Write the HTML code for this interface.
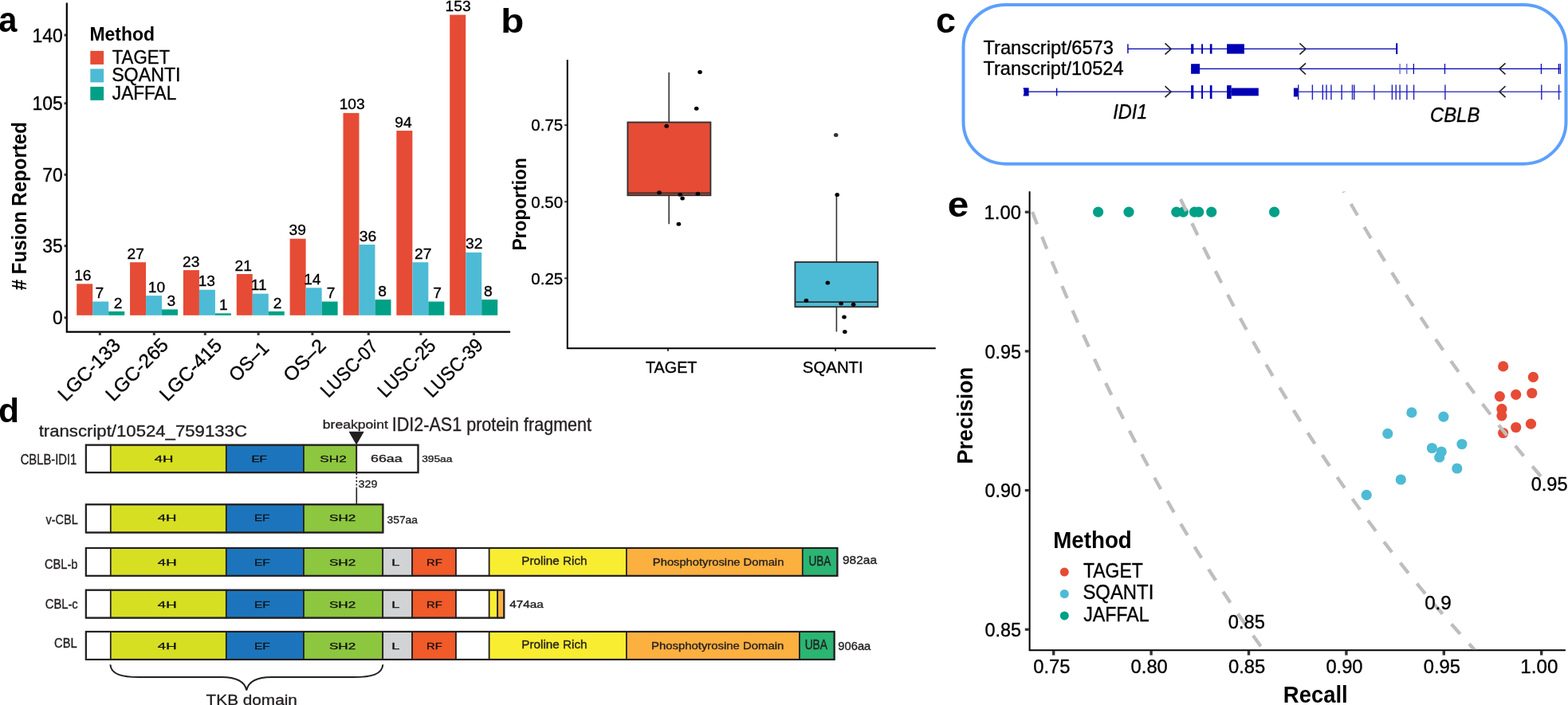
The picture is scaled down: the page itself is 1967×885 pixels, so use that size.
<!DOCTYPE html>
<html><head><meta charset="utf-8"><title>Figure</title>
<style>html,body{margin:0;padding:0;background:#fff;} svg{display:block;} text{font-family:'Liberation Sans', Arial, Helvetica, sans-serif;}</style>
</head><body>
<svg width="1967" height="885" viewBox="0 0 1967 885">
<rect width="1967" height="885" fill="#fff"/>
<text x="-1.72" y="40.30" font-size="45" font-weight="bold" fill="#000" textLength="23.16" lengthAdjust="spacingAndGlyphs">a</text>
<path d="M83.8 3.5 V416.7 H640.1" fill="none" stroke="#000" stroke-width="2.2"/>
<line x1="80.6" y1="398.8" x2="83" y2="398.8" stroke="#333333" stroke-width="3"/>
<text x="65.95" y="407.35" font-size="24.1" fill="#000" stroke="#000" stroke-width="0.35" textLength="12.75" lengthAdjust="spacingAndGlyphs">0</text>
<line x1="80.6" y1="308.7" x2="83" y2="308.7" stroke="#333333" stroke-width="3"/>
<text x="53.27" y="317.25" font-size="24.1" fill="#000" stroke="#000" stroke-width="0.35" textLength="25.49" lengthAdjust="spacingAndGlyphs">35</text>
<line x1="80.6" y1="219.3" x2="83" y2="219.3" stroke="#333333" stroke-width="3"/>
<text x="53.20" y="227.85" font-size="24.1" fill="#000" stroke="#000" stroke-width="0.35" textLength="25.49" lengthAdjust="spacingAndGlyphs">70</text>
<line x1="80.6" y1="129.7" x2="83" y2="129.7" stroke="#333333" stroke-width="3"/>
<text x="40.52" y="138.25" font-size="24.1" fill="#000" stroke="#000" stroke-width="0.35" textLength="38.24" lengthAdjust="spacingAndGlyphs">105</text>
<line x1="80.6" y1="44.1" x2="83" y2="44.1" stroke="#333333" stroke-width="3"/>
<text x="40.46" y="52.65" font-size="24.1" fill="#000" stroke="#000" stroke-width="0.35" textLength="38.24" lengthAdjust="spacingAndGlyphs">140</text>
<rect x="96.20" y="356.35" width="20.00" height="39.45" fill="#E64B35"/>
<text x="93.21" y="351.87" font-size="19.2" fill="#000" stroke="#000" stroke-width="0.35">16</text>
<rect x="116.20" y="378.54" width="20.00" height="17.26" fill="#4DBBD5"/>
<text x="119.45" y="374.24" font-size="19.2" fill="#000" stroke="#000" stroke-width="0.35">7</text>
<rect x="136.20" y="390.87" width="20.00" height="4.93" fill="#00A087"/>
<text x="142.86" y="386.57" font-size="19.2" fill="#000" stroke="#000" stroke-width="0.35">2</text>
<line x1="125.30" y1="417.5" x2="125.30" y2="420.8" stroke="#333333" stroke-width="3"/>
<text x="82.51" y="504.99" font-size="24.2" textLength="99.32" lengthAdjust="spacingAndGlyphs" stroke="#000" stroke-width="0.35" transform="rotate(-45 82.51 504.99)">LGC-133</text>
<rect x="163.06" y="329.23" width="20.00" height="66.57" fill="#E64B35"/>
<text x="159.62" y="324.93" font-size="19.2" fill="#000" stroke="#000" stroke-width="0.35">27</text>
<rect x="183.06" y="371.15" width="20.00" height="24.65" fill="#4DBBD5"/>
<text x="185.87" y="366.66" font-size="19.2" fill="#000" stroke="#000" stroke-width="0.35">10</text>
<rect x="203.06" y="388.40" width="20.00" height="7.40" fill="#00A087"/>
<text x="209.52" y="383.92" font-size="19.2" fill="#000" stroke="#000" stroke-width="0.35">3</text>
<line x1="193.30" y1="417.5" x2="193.30" y2="420.8" stroke="#333333" stroke-width="3"/>
<text x="142.26" y="505.00" font-size="24.2" textLength="99.69" lengthAdjust="spacingAndGlyphs" stroke="#000" stroke-width="0.35" transform="rotate(-45 142.26 505.00)">LGC-265</text>
<rect x="229.92" y="339.10" width="20.00" height="56.70" fill="#E64B35"/>
<text x="229.06" y="334.61" font-size="19.2" fill="#000" stroke="#000" stroke-width="0.35">23</text>
<rect x="249.92" y="363.75" width="20.00" height="32.05" fill="#4DBBD5"/>
<text x="248.71" y="359.26" font-size="19.2" fill="#000" stroke="#000" stroke-width="0.35">13</text>
<rect x="269.92" y="393.33" width="20.00" height="2.47" fill="#00A087"/>
<text x="275.10" y="389.03" font-size="19.2" fill="#000" stroke="#000" stroke-width="0.35">1</text>
<line x1="257.30" y1="417.5" x2="257.30" y2="420.8" stroke="#333333" stroke-width="3"/>
<text x="209.94" y="504.98" font-size="24.2" textLength="98.86" lengthAdjust="spacingAndGlyphs" stroke="#000" stroke-width="0.35" transform="rotate(-45 209.94 504.98)">LGC-415</text>
<rect x="296.78" y="344.03" width="20.00" height="51.77" fill="#E64B35"/>
<text x="294.61" y="339.73" font-size="19.2" fill="#000" stroke="#000" stroke-width="0.35">21</text>
<rect x="316.78" y="368.68" width="20.00" height="27.12" fill="#4DBBD5"/>
<text x="314.66" y="364.38" font-size="19.2" fill="#000" stroke="#000" stroke-width="0.35">11</text>
<rect x="336.78" y="390.87" width="20.00" height="4.93" fill="#00A087"/>
<text x="342.66" y="386.57" font-size="19.2" fill="#000" stroke="#000" stroke-width="0.35">2</text>
<line x1="324.10" y1="417.5" x2="324.10" y2="420.8" stroke="#333333" stroke-width="3"/>
<text x="297.13" y="480.45" font-size="24.2" textLength="59.16" lengthAdjust="spacingAndGlyphs" stroke="#000" stroke-width="0.35" transform="rotate(-45 297.13 480.45)">OS–1</text>
<rect x="363.64" y="299.65" width="20.00" height="96.15" fill="#E64B35"/>
<text x="362.61" y="295.16" font-size="19.2" fill="#000" stroke="#000" stroke-width="0.35">39</text>
<rect x="383.64" y="361.28" width="20.00" height="34.52" fill="#4DBBD5"/>
<text x="381.17" y="356.98" font-size="19.2" fill="#000" stroke="#000" stroke-width="0.35">14</text>
<rect x="403.64" y="378.54" width="20.00" height="17.26" fill="#00A087"/>
<text x="409.75" y="374.24" font-size="19.2" fill="#000" stroke="#000" stroke-width="0.35">7</text>
<line x1="391.90" y1="417.5" x2="391.90" y2="420.8" stroke="#333333" stroke-width="3"/>
<text x="365.19" y="480.65" font-size="24.2" textLength="63.84" lengthAdjust="spacingAndGlyphs" stroke="#000" stroke-width="0.35" transform="rotate(-45 365.19 480.65)">OS–2</text>
<rect x="430.50" y="141.86" width="20.00" height="253.94" fill="#E64B35"/>
<text x="425.67" y="137.38" font-size="19.2" fill="#000" stroke="#000" stroke-width="0.35">103</text>
<rect x="450.50" y="307.05" width="20.00" height="88.75" fill="#4DBBD5"/>
<text x="450.78" y="302.56" font-size="19.2" fill="#000" stroke="#000" stroke-width="0.35">36</text>
<rect x="470.50" y="376.08" width="20.00" height="19.72" fill="#00A087"/>
<text x="474.36" y="371.59" font-size="19.2" fill="#000" stroke="#000" stroke-width="0.35">8</text>
<line x1="462.30" y1="417.5" x2="462.30" y2="420.8" stroke="#333333" stroke-width="3"/>
<text x="411.98" y="500.22" font-size="24.2" textLength="90.05" lengthAdjust="spacingAndGlyphs" stroke="#000" stroke-width="0.35" transform="rotate(-45 411.98 500.22)">LUSC-07</text>
<rect x="497.36" y="164.05" width="20.00" height="231.75" fill="#E64B35"/>
<text x="495.25" y="159.56" font-size="19.2" fill="#000" stroke="#000" stroke-width="0.35">94</text>
<rect x="517.36" y="329.23" width="20.00" height="66.57" fill="#4DBBD5"/>
<text x="520.02" y="324.93" font-size="19.2" fill="#000" stroke="#000" stroke-width="0.35">27</text>
<rect x="537.36" y="378.54" width="20.00" height="17.26" fill="#00A087"/>
<text x="543.35" y="374.24" font-size="19.2" fill="#000" stroke="#000" stroke-width="0.35">7</text>
<line x1="527.90" y1="417.5" x2="527.90" y2="420.8" stroke="#333333" stroke-width="3"/>
<text x="483.39" y="500.27" font-size="24.2" textLength="91.52" lengthAdjust="spacingAndGlyphs" stroke="#000" stroke-width="0.35" transform="rotate(-45 483.39 500.27)">LUSC-25</text>
<rect x="564.22" y="18.59" width="20.00" height="377.21" fill="#E64B35"/>
<text x="558.57" y="14.11" font-size="19.2" fill="#000" stroke="#000" stroke-width="0.35">153</text>
<rect x="584.22" y="316.91" width="20.00" height="78.89" fill="#4DBBD5"/>
<text x="584.04" y="312.42" font-size="19.2" fill="#000" stroke="#000" stroke-width="0.35">32</text>
<rect x="604.22" y="376.08" width="20.00" height="19.72" fill="#00A087"/>
<text x="607.06" y="371.59" font-size="19.2" fill="#000" stroke="#000" stroke-width="0.35">8</text>
<line x1="594.50" y1="417.5" x2="594.50" y2="420.8" stroke="#333333" stroke-width="3"/>
<text x="541.93" y="500.29" font-size="24.2" textLength="92.66" lengthAdjust="spacingAndGlyphs" stroke="#000" stroke-width="0.35" transform="rotate(-45 541.93 500.29)">LUSC-39</text>
<text x="0" y="0" font-size="25" font-weight="bold" text-anchor="middle" textLength="211.3" lengthAdjust="spacingAndGlyphs" transform="translate(32.8 258.7) rotate(-90)"># Fusion Reported</text>
<text x="112.46" y="50.90" font-size="23.4" font-weight="bold" fill="#000" textLength="81.65" lengthAdjust="spacingAndGlyphs">Method</text>
<rect x="113.3" y="63.90" width="16.8" height="17" fill="#E64B35"/>
<text x="140.71" y="79.70" font-size="23.4" fill="#000" stroke="#000" stroke-width="0.35" textLength="72.28" lengthAdjust="spacingAndGlyphs">TAGET</text>
<rect x="113.3" y="86.40" width="16.8" height="17" fill="#4DBBD5"/>
<text x="140.15" y="101.80" font-size="23.4" fill="#000" stroke="#000" stroke-width="0.35" textLength="86.40" lengthAdjust="spacingAndGlyphs">SQANTI</text>
<rect x="113.3" y="108.90" width="16.8" height="17" fill="#00A087"/>
<text x="140.85" y="124.90" font-size="23.4" fill="#000" stroke="#000" stroke-width="0.35" textLength="80.39" lengthAdjust="spacingAndGlyphs">JAFFAL</text>
<text x="628.16" y="40.60" font-size="43" font-weight="bold" fill="#000" textLength="29.09" lengthAdjust="spacingAndGlyphs">b</text>
<path d="M711.8 74.9 V437.2 H1173.8" fill="none" stroke="#000" stroke-width="2"/>
<line x1="708.2" y1="349.3" x2="711" y2="349.3" stroke="#333333" stroke-width="2"/>
<text x="666.30" y="356.65" font-size="20.7" fill="#000" stroke="#000" stroke-width="0.35" textLength="39.86" lengthAdjust="spacingAndGlyphs">0.25</text>
<line x1="708.2" y1="253.2" x2="711" y2="253.2" stroke="#333333" stroke-width="2"/>
<text x="666.30" y="260.55" font-size="20.7" fill="#000" stroke="#000" stroke-width="0.35" textLength="39.80" lengthAdjust="spacingAndGlyphs">0.50</text>
<line x1="708.2" y1="157.1" x2="711" y2="157.1" stroke="#333333" stroke-width="2"/>
<text x="666.30" y="164.45" font-size="20.7" fill="#000" stroke="#000" stroke-width="0.35" textLength="39.86" lengthAdjust="spacingAndGlyphs">0.75</text>
<line x1="838.0" y1="438" x2="838.0" y2="440.8" stroke="#333333" stroke-width="2"/>
<text x="809.97" y="468.10" font-size="20.6" fill="#000" stroke="#000" stroke-width="0.35" textLength="64.48" lengthAdjust="spacingAndGlyphs">TAGET</text>
<line x1="1048.0" y1="438" x2="1048.0" y2="440.8" stroke="#333333" stroke-width="2"/>
<text x="1006.77" y="468.10" font-size="20.6" fill="#000" stroke="#000" stroke-width="0.35" textLength="76.01" lengthAdjust="spacingAndGlyphs">SQANTI</text>
<text x="0" y="0" font-size="23.5" font-weight="bold" text-anchor="middle" textLength="116.5" lengthAdjust="spacingAndGlyphs" transform="translate(659.6 256.3) rotate(-90)">Proportion</text>
<line x1="839.2" y1="91" x2="839.2" y2="153.3" stroke="#333333" stroke-width="1.6"/>
<line x1="839.2" y1="245.4" x2="839.2" y2="281.2" stroke="#333333" stroke-width="1.6"/>
<rect x="787.4000000000001" y="153.5" width="104.00" height="91.70" fill="#E64B35" stroke="#333333" stroke-width="1.9"/>
<line x1="787.2" y1="242.3" x2="891.6" y2="242.3" stroke="#333333" stroke-width="1.8"/>
<line x1="1049.4" y1="244.4" x2="1049.4" y2="328.8" stroke="#333333" stroke-width="1.6"/>
<line x1="1049.4" y1="385.4" x2="1049.4" y2="416.4" stroke="#333333" stroke-width="1.6"/>
<rect x="997.4000000000001" y="329.0" width="103.80" height="56.20" fill="#4DBBD5" stroke="#333333" stroke-width="1.9"/>
<line x1="997.2" y1="379.2" x2="1101.4" y2="379.2" stroke="#333333" stroke-width="1.8"/>
<ellipse cx="878" cy="90.4" rx="2.8" ry="2.5" fill="#000"/>
<ellipse cx="873.7" cy="136.2" rx="2.8" ry="2.5" fill="#000"/>
<ellipse cx="836.2" cy="158.2" rx="2.8" ry="2.5" fill="#000"/>
<ellipse cx="827" cy="241.8" rx="2.8" ry="2.5" fill="#000"/>
<ellipse cx="853.2" cy="244.3" rx="2.8" ry="2.5" fill="#000"/>
<ellipse cx="856.1" cy="248.9" rx="2.8" ry="2.5" fill="#000"/>
<ellipse cx="875.4" cy="243.2" rx="2.8" ry="2.5" fill="#000"/>
<ellipse cx="851.4" cy="281.2" rx="2.8" ry="2.5" fill="#000"/>
<ellipse cx="1050.2" cy="244.4" rx="2.8" ry="2.5" fill="#000"/>
<ellipse cx="1038.3" cy="355" rx="2.8" ry="2.5" fill="#000"/>
<ellipse cx="1011.4" cy="377.2" rx="2.8" ry="2.5" fill="#000"/>
<ellipse cx="1055.2" cy="381.1" rx="2.8" ry="2.5" fill="#000"/>
<ellipse cx="1070.6" cy="382.2" rx="2.8" ry="2.5" fill="#000"/>
<ellipse cx="1059" cy="398" rx="2.8" ry="2.5" fill="#000"/>
<ellipse cx="1059.8" cy="416.4" rx="2.8" ry="2.5" fill="#000"/>
<ellipse cx="1048.7" cy="169.6" rx="2.8" ry="2.5" fill="#333"/>
<text x="1174.05" y="41.10" font-size="45" font-weight="bold" fill="#000" textLength="24.97" lengthAdjust="spacingAndGlyphs">c</text>
<rect x="1208.5" y="6" width="756" height="199.7" rx="53" ry="53" fill="none" stroke="#5DA0FC" stroke-width="4"/>
<text x="1233.47" y="67.50" font-size="23.6" fill="#000" stroke="#000" stroke-width="0.35" textLength="163.46" lengthAdjust="spacingAndGlyphs">Transcript/6573</text>
<text x="1233.47" y="94.40" font-size="23.6" fill="#000" stroke="#000" stroke-width="0.35" textLength="176.11" lengthAdjust="spacingAndGlyphs">Transcript/10524</text>
<text x="1396.27" y="148.50" font-size="25" font-style="italic" fill="#000" stroke="#000" stroke-width="0.35" textLength="43.12" lengthAdjust="spacingAndGlyphs">IDI1</text>
<text x="1793.98" y="153.10" font-size="25" font-style="italic" fill="#000" stroke="#000" stroke-width="0.35" textLength="62.33" lengthAdjust="spacingAndGlyphs">CBLB</text>
<line x1="1414.9" y1="61.35" x2="1752" y2="61.35" stroke="#0000B4" stroke-width="1.2"/>
<rect x="1414.2" y="55.3" width="1.4" height="11.7" fill="#0000B4"/>
<rect x="1751.2" y="54.2" width="2" height="13.7" fill="#0000B4"/>
<rect x="1494.1" y="55.3" width="3.20" height="12.2" fill="#0000B4"/>
<rect x="1507.1" y="55.3" width="1.90" height="12.2" fill="#0000B4"/>
<rect x="1517.8" y="55.3" width="2.70" height="12.2" fill="#0000B4"/>
<rect x="1539.1" y="55.3" width="21.80" height="12.2" fill="#0000B4"/>
<path d="M1461.5 54.4 L1469.1 61.4 L1461.5 68.3" fill="none" stroke="#222" stroke-width="1.6"/>
<path d="M1630.4 54.4 L1638.0 61.4 L1630.4 68.3" fill="none" stroke="#222" stroke-width="1.6"/>
<line x1="1494" y1="86.3" x2="1957.5" y2="86.3" stroke="#0000B4" stroke-width="1.2"/>
<rect x="1494.1" y="80.2" width="11" height="12.5" fill="#0000B4"/>
<rect x="1755.5" y="80" width="1.2" height="12.9" fill="#5050C8"/>
<rect x="1764.2" y="80" width="1.2" height="12.9" fill="#5050C8"/>
<rect x="1772.8" y="80" width="1.2" height="12.9" fill="#0000B4"/>
<rect x="1811.9" y="80" width="1.2" height="12.9" fill="#0000B4"/>
<rect x="1932.8" y="80" width="1.2" height="12.9" fill="#0000B4"/>
<rect x="1954.8" y="80" width="1.2" height="12.9" fill="#0000B4"/>
<rect x="1956.7" y="80" width="1.2" height="12.9" fill="#0000B4"/>
<path d="M1638.0 79.3 L1630.4 86.3 L1638.0 93.3" fill="none" stroke="#222" stroke-width="1.6"/>
<path d="M1888.5 79.3 L1880.9 86.3 L1888.5 93.3" fill="none" stroke="#222" stroke-width="1.6"/>
<line x1="1284" y1="115.2" x2="1545" y2="115.2" stroke="#0000B4" stroke-width="1.2"/>
<line x1="1628" y1="115.2" x2="1958.6" y2="115.2" stroke="#4646C8" stroke-width="1.6"/>
<path d="M1283.5 110.3 H1290.6 V120.6 H1283.5 L1284.9 115.4 Z" fill="#0000B4"/>
<rect x="1325" y="110.6" width="1.3" height="9.8" fill="#0000B4"/>
<rect x="1494.1" y="107.1" width="3.20" height="16.9" fill="#0000B4"/>
<rect x="1507.1" y="107.1" width="1.90" height="16.9" fill="#0000B4"/>
<rect x="1517.8" y="107.1" width="2.70" height="16.9" fill="#0000B4"/>
<rect x="1539.1" y="107.1" width="5.60" height="16.9" fill="#0000B4"/>
<rect x="1544.7" y="110.5" width="34.1" height="9.8" fill="#0000B4"/>
<rect x="1622.9" y="110.5" width="5.8" height="10.9" fill="#0000B4"/>
<rect x="1628.0" y="106.4" width="1.4" height="18.8" fill="#2020BE"/>
<rect x="1645.7" y="106.4" width="1.4" height="18.8" fill="#2020BE"/>
<rect x="1658.6" y="106.4" width="1.4" height="18.8" fill="#2020BE"/>
<rect x="1663.3" y="106.4" width="1.4" height="18.8" fill="#2020BE"/>
<rect x="1669.2" y="106.4" width="1.4" height="18.8" fill="#2020BE"/>
<rect x="1682.4" y="106.4" width="1.4" height="18.8" fill="#2020BE"/>
<rect x="1695.8" y="106.4" width="1.4" height="18.8" fill="#2020BE"/>
<rect x="1698.1" y="106.4" width="1.4" height="18.8" fill="#2020BE"/>
<rect x="1723.3" y="106.4" width="1.4" height="18.8" fill="#2020BE"/>
<rect x="1745.7" y="106.4" width="1.4" height="18.8" fill="#2020BE"/>
<rect x="1750.5" y="106.4" width="1.4" height="18.8" fill="#2020BE"/>
<rect x="1755.4" y="106.4" width="1.4" height="18.8" fill="#2020BE"/>
<rect x="1764.2" y="106.4" width="1.4" height="18.8" fill="#2020BE"/>
<rect x="1772.9" y="106.4" width="1.4" height="18.8" fill="#2020BE"/>
<rect x="1812.2" y="106.4" width="1.4" height="18.8" fill="#2020BE"/>
<rect x="1933.1" y="106.4" width="1.4" height="18.8" fill="#2020BE"/>
<rect x="1954.9" y="106.4" width="1.4" height="18.8" fill="#2020BE"/>
<path d="M1461.5 108.2 L1469.1 115.2 L1461.5 122.2" fill="none" stroke="#222" stroke-width="1.6"/>
<path d="M1888.5 108.2 L1880.9 115.2 L1888.5 122.2" fill="none" stroke="#222" stroke-width="1.6"/>
<text x="1188.84" y="272.30" font-size="45" font-weight="bold" fill="#000" textLength="26.49" lengthAdjust="spacingAndGlyphs">e</text>
<path d="M1291.6 240.2 V816.3 H1963.9" fill="none" stroke="#000" stroke-width="2"/>
<line x1="1285.8" y1="266.2" x2="1290.8" y2="266.2" stroke="#333333" stroke-width="3.2"/>
<text x="1234.59" y="274.80" font-size="24.2" fill="#000" stroke="#000" stroke-width="0.35" textLength="46.34" lengthAdjust="spacingAndGlyphs">1.00</text>
<line x1="1285.8" y1="440.9" x2="1290.8" y2="440.9" stroke="#333333" stroke-width="3.2"/>
<text x="1235.49" y="449.50" font-size="24.2" fill="#000" stroke="#000" stroke-width="0.35" textLength="45.49" lengthAdjust="spacingAndGlyphs">0.95</text>
<line x1="1285.8" y1="615.5" x2="1290.8" y2="615.5" stroke="#333333" stroke-width="3.2"/>
<text x="1235.49" y="624.10" font-size="24.2" fill="#000" stroke="#000" stroke-width="0.35" textLength="45.42" lengthAdjust="spacingAndGlyphs">0.90</text>
<line x1="1285.8" y1="790.2" x2="1290.8" y2="790.2" stroke="#333333" stroke-width="3.2"/>
<text x="1235.49" y="798.80" font-size="24.2" fill="#000" stroke="#000" stroke-width="0.35" textLength="45.49" lengthAdjust="spacingAndGlyphs">0.85</text>
<line x1="1321.7" y1="817" x2="1321.7" y2="822.5" stroke="#333333" stroke-width="3.4"/>
<text x="1296.22" y="844.60" font-size="24.2" fill="#000" stroke="#000" stroke-width="0.35" textLength="46.23" lengthAdjust="spacingAndGlyphs">0.75</text>
<line x1="1444.1" y1="817" x2="1444.1" y2="822.5" stroke="#333333" stroke-width="3.4"/>
<text x="1418.62" y="844.60" font-size="24.2" fill="#000" stroke="#000" stroke-width="0.35" textLength="46.15" lengthAdjust="spacingAndGlyphs">0.80</text>
<line x1="1566.5" y1="817" x2="1566.5" y2="822.5" stroke="#333333" stroke-width="3.4"/>
<text x="1541.02" y="844.60" font-size="24.2" fill="#000" stroke="#000" stroke-width="0.35" textLength="46.23" lengthAdjust="spacingAndGlyphs">0.85</text>
<line x1="1688.9" y1="817" x2="1688.9" y2="822.5" stroke="#333333" stroke-width="3.4"/>
<text x="1663.42" y="844.60" font-size="24.2" fill="#000" stroke="#000" stroke-width="0.35" textLength="46.15" lengthAdjust="spacingAndGlyphs">0.90</text>
<line x1="1811.3" y1="817" x2="1811.3" y2="822.5" stroke="#333333" stroke-width="3.4"/>
<text x="1785.82" y="844.60" font-size="24.2" fill="#000" stroke="#000" stroke-width="0.35" textLength="46.23" lengthAdjust="spacingAndGlyphs">0.95</text>
<line x1="1933.7" y1="817" x2="1933.7" y2="822.5" stroke="#333333" stroke-width="3.4"/>
<text x="1907.31" y="844.60" font-size="24.2" fill="#000" stroke="#000" stroke-width="0.35" textLength="47.09" lengthAdjust="spacingAndGlyphs">1.00</text>
<text x="1609.86" y="881.70" font-size="28.8" font-weight="bold" fill="#000" textLength="80.88" lengthAdjust="spacingAndGlyphs">Recall</text>
<text x="0" y="0" font-size="27.6" font-weight="bold" text-anchor="middle" textLength="121.8" lengthAdjust="spacingAndGlyphs" transform="translate(1219.9 521.6) rotate(-90)">Precision</text>
<circle cx="1377.6" cy="266.1" r="6.6" fill="#00A087"/>
<circle cx="1416" cy="266.1" r="6.6" fill="#00A087"/>
<circle cx="1475.8" cy="266.1" r="6.6" fill="#00A087"/>
<circle cx="1484.3" cy="266.1" r="6.6" fill="#00A087"/>
<circle cx="1498.5" cy="266.1" r="6.6" fill="#00A087"/>
<circle cx="1503.7" cy="266.1" r="6.6" fill="#00A087"/>
<circle cx="1519.7" cy="266.1" r="6.6" fill="#00A087"/>
<circle cx="1598.6" cy="266.1" r="6.6" fill="#00A087"/>
<circle cx="1770.9" cy="517.9" r="6.6" fill="#4DBBD5"/>
<circle cx="1810.9" cy="523.1" r="6.6" fill="#4DBBD5"/>
<circle cx="1740.8" cy="544.4" r="6.6" fill="#4DBBD5"/>
<circle cx="1833.9" cy="557.5" r="6.6" fill="#4DBBD5"/>
<circle cx="1796.4" cy="562.5" r="6.6" fill="#4DBBD5"/>
<circle cx="1808.2" cy="567" r="6.6" fill="#4DBBD5"/>
<circle cx="1805.7" cy="574" r="6.6" fill="#4DBBD5"/>
<circle cx="1827.8" cy="588" r="6.6" fill="#4DBBD5"/>
<circle cx="1757.3" cy="602" r="6.6" fill="#4DBBD5"/>
<circle cx="1714.2" cy="621.4" r="6.6" fill="#4DBBD5"/>
<circle cx="1885.7" cy="459.9" r="6.6" fill="#E64B35"/>
<circle cx="1923.4" cy="473.4" r="6.6" fill="#E64B35"/>
<circle cx="1881.4" cy="497.6" r="6.6" fill="#E64B35"/>
<circle cx="1901.7" cy="495.4" r="6.6" fill="#E64B35"/>
<circle cx="1921.8" cy="493.5" r="6.6" fill="#E64B35"/>
<circle cx="1883.9" cy="513.4" r="6.6" fill="#E64B35"/>
<circle cx="1883.9" cy="521.8" r="6.6" fill="#E64B35"/>
<circle cx="1901.7" cy="536.5" r="6.6" fill="#E64B35"/>
<circle cx="1920.5" cy="532.2" r="6.6" fill="#E64B35"/>
<circle cx="1885.7" cy="543.5" r="6.6" fill="#E64B35"/>
<text x="1321.14" y="687.50" font-size="29.0" font-weight="bold" fill="#000" textLength="98.69" lengthAdjust="spacingAndGlyphs">Method</text>
<circle cx="1335.3" cy="718.1" r="5.5" fill="#E64B35"/>
<text x="1359.00" y="724.60" font-size="25.0" fill="#000" stroke="#000" stroke-width="0.35" textLength="74.72" lengthAdjust="spacingAndGlyphs">TAGET</text>
<circle cx="1335.3" cy="745.5" r="5.5" fill="#4DBBD5"/>
<text x="1358.42" y="751.70" font-size="25.0" fill="#000" stroke="#000" stroke-width="0.35" textLength="88.89" lengthAdjust="spacingAndGlyphs">SQANTI</text>
<circle cx="1335.3" cy="772.9" r="5.5" fill="#00A087"/>
<text x="1359.14" y="779.70" font-size="25.0" fill="#000" stroke="#000" stroke-width="0.35" textLength="82.41" lengthAdjust="spacingAndGlyphs">JAFFAL</text>
<defs><clipPath id="ce"><rect x="1292.6" y="240.2" width="672" height="575"/></clipPath></defs>
<path d="M1285.19 240.00 L1285.56 241.00 L1285.94 242.00 L1286.31 243.00 L1286.69 244.00 L1287.06 245.00 L1287.44 246.00 L1287.81 247.00 L1288.19 248.00 L1288.56 249.00 L1288.94 250.00 L1289.32 251.00 L1289.69 252.00 L1290.07 253.00 L1290.45 254.00 L1290.83 255.00 L1291.21 256.00 L1291.59 257.00 L1291.97 258.00 L1292.35 259.00 L1292.73 260.00 L1293.11 261.00 L1293.49 262.00 L1293.87 263.00 L1294.25 264.00 L1294.63 265.00 L1295.02 266.00 L1295.40 267.00 L1295.78 268.00 L1296.17 269.00 L1296.55 270.00 L1296.94 271.01 L1297.32 272.01 L1297.71 273.01 L1298.09 274.01 L1298.48 275.01 L1298.86 276.01 L1299.25 277.01 L1299.64 278.01 L1300.03 279.01 L1300.41 280.01 L1300.80 281.01 L1301.19 282.01 L1301.58 283.01 L1301.97 284.01 L1302.36 285.01 L1302.75 286.01 L1303.14 287.01 L1303.53 288.01 L1303.92 289.01 L1304.32 290.01 L1304.71 291.01 L1305.10 292.01 L1305.49 293.01 L1305.89 294.01 L1306.28 295.01 L1306.68 296.01 L1307.07 297.01 L1307.47 298.01 L1307.86 299.01 L1308.26 300.01 L1308.65 301.01 L1309.05 302.01 L1309.45 303.01 L1309.84 304.01 L1310.24 305.01 L1310.64 306.01 L1311.04 307.01 L1311.44 308.01 L1311.84 309.01 L1312.24 310.01 L1312.64 311.01 L1313.04 312.01 L1313.44 313.01 L1313.84 314.01 L1314.24 315.01 L1314.65 316.01 L1315.05 317.01 L1315.45 318.01 L1315.86 319.01 L1316.26 320.01 L1316.67 321.01 L1317.07 322.01 L1317.48 323.01 L1317.88 324.01 L1318.29 325.01 L1318.69 326.01 L1319.10 327.01 L1319.51 328.01 L1319.92 329.01 L1320.32 330.01 L1320.73 331.01 L1321.14 332.01 L1321.55 333.01 L1321.96 334.01 L1322.37 335.01 L1322.78 336.01 L1323.19 337.01 L1323.61 338.01 L1324.02 339.01 L1324.43 340.01 L1324.84 341.01 L1325.26 342.01 L1325.67 343.01 L1326.08 344.01 L1326.50 345.01 L1326.91 346.01 L1327.33 347.01 L1327.74 348.01 L1328.16 349.01 L1328.58 350.01 L1329.00 351.01 L1329.41 352.01 L1329.83 353.01 L1330.25 354.01 L1330.67 355.01 L1331.09 356.01 L1331.51 357.01 L1331.93 358.01 L1332.35 359.01 L1332.77 360.01 L1333.19 361.01 L1333.61 362.01 L1334.04 363.01 L1334.46 364.01 L1334.88 365.01 L1335.31 366.01 L1335.73 367.01 L1336.15 368.01 L1336.58 369.01 L1337.01 370.01 L1337.43 371.01 L1337.86 372.01 L1338.28 373.01 L1338.71 374.01 L1339.14 375.01 L1339.57 376.01 L1340.00 377.01 L1340.43 378.01 L1340.86 379.01 L1341.29 380.01 L1341.72 381.01 L1342.15 382.01 L1342.58 383.01 L1343.01 384.01 L1343.44 385.01 L1343.88 386.01 L1344.31 387.01 L1344.74 388.01 L1345.18 389.01 L1345.61 390.01 L1346.05 391.01 L1346.48 392.02 L1346.92 393.02 L1347.35 394.02 L1347.79 395.02 L1348.23 396.02 L1348.67 397.02 L1349.10 398.02 L1349.54 399.02 L1349.98 400.02 L1350.42 401.02 L1350.86 402.02 L1351.30 403.02 L1351.74 404.02 L1352.19 405.02 L1352.63 406.02 L1353.07 407.02 L1353.51 408.02 L1353.96 409.02 L1354.40 410.02 L1354.85 411.02 L1355.29 412.02 L1355.74 413.02 L1356.18 414.02 L1356.63 415.02 L1357.08 416.02 L1357.52 417.02 L1357.97 418.02 L1358.42 419.02 L1358.87 420.02 L1359.32 421.02 L1359.77 422.02 L1360.22 423.02 L1360.67 424.02 L1361.12 425.02 L1361.57 426.02 L1362.02 427.02 L1362.48 428.02 L1362.93 429.02 L1363.38 430.02 L1363.84 431.02 L1364.29 432.02 L1364.75 433.02 L1365.20 434.02 L1365.66 435.02 L1366.12 436.02 L1366.57 437.02 L1367.03 438.02 L1367.49 439.02 L1367.95 440.02 L1368.41 441.02 L1368.87 442.02 L1369.33 443.02 L1369.79 444.02 L1370.25 445.02 L1370.71 446.02 L1371.17 447.02 L1371.63 448.02 L1372.10 449.02 L1372.56 450.02 L1373.03 451.02 L1373.49 452.02 L1373.96 453.02 L1374.42 454.02 L1374.89 455.02 L1375.35 456.02 L1375.82 457.02 L1376.29 458.02 L1376.76 459.02 L1377.23 460.02 L1377.70 461.02 L1378.17 462.02 L1378.64 463.02 L1379.11 464.02 L1379.58 465.02 L1380.05 466.02 L1380.52 467.02 L1381.00 468.02 L1381.47 469.02 L1381.94 470.02 L1382.42 471.02 L1382.89 472.02 L1383.37 473.02 L1383.84 474.02 L1384.32 475.02 L1384.80 476.02 L1385.28 477.02 L1385.75 478.02 L1386.23 479.02 L1386.71 480.02 L1387.19 481.02 L1387.67 482.02 L1388.15 483.02 L1388.63 484.02 L1389.12 485.02 L1389.60 486.02 L1390.08 487.02 L1390.57 488.02 L1391.05 489.02 L1391.53 490.02 L1392.02 491.02 L1392.51 492.02 L1392.99 493.02 L1393.48 494.02 L1393.97 495.02 L1394.45 496.02 L1394.94 497.02 L1395.43 498.02 L1395.92 499.02 L1396.41 500.02 L1396.90 501.02 L1397.39 502.02 L1397.89 503.02 L1398.38 504.02 L1398.87 505.02 L1399.36 506.02 L1399.86 507.02 L1400.35 508.02 L1400.85 509.02 L1401.34 510.02 L1401.84 511.02 L1402.34 512.02 L1402.83 513.03 L1403.33 514.03 L1403.83 515.03 L1404.33 516.03 L1404.83 517.03 L1405.33 518.03 L1405.83 519.03 L1406.33 520.03 L1406.83 521.03 L1407.34 522.03 L1407.84 523.03 L1408.34 524.03 L1408.85 525.03 L1409.35 526.03 L1409.86 527.03 L1410.36 528.03 L1410.87 529.03 L1411.38 530.03 L1411.89 531.03 L1412.39 532.03 L1412.90 533.03 L1413.41 534.03 L1413.92 535.03 L1414.43 536.03 L1414.95 537.03 L1415.46 538.03 L1415.97 539.03 L1416.48 540.03 L1417.00 541.03 L1417.51 542.03 L1418.03 543.03 L1418.54 544.03 L1419.06 545.03 L1419.57 546.03 L1420.09 547.03 L1420.61 548.03 L1421.13 549.03 L1421.65 550.03 L1422.17 551.03 L1422.69 552.03 L1423.21 553.03 L1423.73 554.03 L1424.25 555.03 L1424.77 556.03 L1425.30 557.03 L1425.82 558.03 L1426.34 559.03 L1426.87 560.03 L1427.39 561.03 L1427.92 562.03 L1428.45 563.03 L1428.98 564.03 L1429.50 565.03 L1430.03 566.03 L1430.56 567.03 L1431.09 568.03 L1431.62 569.03 L1432.15 570.03 L1432.69 571.03 L1433.22 572.03 L1433.75 573.03 L1434.28 574.03 L1434.82 575.03 L1435.35 576.03 L1435.89 577.03 L1436.43 578.03 L1436.96 579.03 L1437.50 580.03 L1438.04 581.03 L1438.58 582.03 L1439.12 583.03 L1439.66 584.03 L1440.20 585.03 L1440.74 586.03 L1441.28 587.03 L1441.82 588.03 L1442.37 589.03 L1442.91 590.03 L1443.46 591.03 L1444.00 592.03 L1444.55 593.03 L1445.09 594.03 L1445.64 595.03 L1446.19 596.03 L1446.74 597.03 L1447.29 598.03 L1447.84 599.03 L1448.39 600.03 L1448.94 601.03 L1449.49 602.03 L1450.04 603.03 L1450.59 604.03 L1451.15 605.03 L1451.70 606.03 L1452.26 607.03 L1452.81 608.03 L1453.37 609.03 L1453.93 610.03 L1454.48 611.03 L1455.04 612.03 L1455.60 613.03 L1456.16 614.03 L1456.72 615.03 L1457.28 616.03 L1457.85 617.03 L1458.41 618.03 L1458.97 619.03 L1459.53 620.03 L1460.10 621.03 L1460.66 622.03 L1461.23 623.03 L1461.80 624.03 L1462.36 625.03 L1462.93 626.03 L1463.50 627.03 L1464.07 628.03 L1464.64 629.03 L1465.21 630.03 L1465.78 631.03 L1466.35 632.03 L1466.93 633.03 L1467.50 634.04 L1468.08 635.04 L1468.65 636.04 L1469.23 637.04 L1469.80 638.04 L1470.38 639.04 L1470.96 640.04 L1471.53 641.04 L1472.11 642.04 L1472.69 643.04 L1473.27 644.04 L1473.86 645.04 L1474.44 646.04 L1475.02 647.04 L1475.60 648.04 L1476.19 649.04 L1476.77 650.04 L1477.36 651.04 L1477.94 652.04 L1478.53 653.04 L1479.12 654.04 L1479.71 655.04 L1480.30 656.04 L1480.89 657.04 L1481.48 658.04 L1482.07 659.04 L1482.66 660.04 L1483.25 661.04 L1483.85 662.04 L1484.44 663.04 L1485.04 664.04 L1485.63 665.04 L1486.23 666.04 L1486.83 667.04 L1487.42 668.04 L1488.02 669.04 L1488.62 670.04 L1489.22 671.04 L1489.82 672.04 L1490.43 673.04 L1491.03 674.04 L1491.63 675.04 L1492.24 676.04 L1492.84 677.04 L1493.45 678.04 L1494.05 679.04 L1494.66 680.04 L1495.27 681.04 L1495.88 682.04 L1496.49 683.04 L1497.10 684.04 L1497.71 685.04 L1498.32 686.04 L1498.93 687.04 L1499.54 688.04 L1500.16 689.04 L1500.77 690.04 L1501.39 691.04 L1502.00 692.04 L1502.62 693.04 L1503.24 694.04 L1503.86 695.04 L1504.48 696.04 L1505.10 697.04 L1505.72 698.04 L1506.34 699.04 L1506.96 700.04 L1507.59 701.04 L1508.21 702.04 L1508.83 703.04 L1509.46 704.04 L1510.09 705.04 L1510.71 706.04 L1511.34 707.04 L1511.97 708.04 L1512.60 709.04 L1513.23 710.04 L1513.86 711.04 L1514.50 712.04 L1515.13 713.04 L1515.76 714.04 L1516.40 715.04 L1517.03 716.04 L1517.67 717.04 L1518.31 718.04 L1518.94 719.04 L1519.58 720.04 L1520.22 721.04 L1520.86 722.04 L1521.50 723.04 L1522.15 724.04 L1522.79 725.04 L1523.43 726.04 L1524.08 727.04 L1524.72 728.04 L1525.37 729.04 L1526.01 730.04 L1526.66 731.04 L1527.31 732.04 L1527.96 733.04 L1528.61 734.04 L1529.26 735.04 L1529.91 736.04 L1530.57 737.04 L1531.22 738.04 L1531.88 739.04 L1532.53 740.04 L1533.19 741.04 L1533.84 742.04 L1534.50 743.04 L1535.16 744.04 L1535.82 745.04 L1536.48 746.04 L1537.14 747.04 L1537.81 748.04 L1538.47 749.04 L1539.13 750.04 L1539.80 751.04 L1540.46 752.04 L1541.13 753.04 L1541.80 754.04 L1542.47 755.05 L1543.14 756.05 L1543.81 757.05 L1544.48 758.05 L1545.15 759.05 L1545.82 760.05 L1546.49 761.05 L1547.17 762.05 L1547.85 763.05 L1548.52 764.05 L1549.20 765.05 L1549.88 766.05 L1550.56 767.05 L1551.24 768.05 L1551.92 769.05 L1552.60 770.05 L1553.28 771.05 L1553.97 772.05 L1554.65 773.05 L1555.34 774.05 L1556.02 775.05 L1556.71 776.05 L1557.40 777.05 L1558.09 778.05 L1558.78 779.05 L1559.47 780.05 L1560.16 781.05 L1560.85 782.05 L1561.55 783.05 L1562.24 784.05 L1562.94 785.05 L1563.63 786.05 L1564.33 787.05 L1565.03 788.05 L1565.73 789.05 L1566.43 790.05 L1567.13 791.05 L1567.83 792.05 L1568.54 793.05 L1569.24 794.05 L1569.94 795.05 L1570.65 796.05 L1571.36 797.05 L1572.07 798.05 L1572.77 799.05 L1573.48 800.05 L1574.19 801.05 L1574.91 802.05 L1575.62 803.05 L1576.33 804.05 L1577.05 805.05 L1577.76 806.05 L1578.48 807.05 L1579.20 808.05 L1579.92 809.05 L1580.64 810.05 L1581.36 811.05 L1582.08 812.05 L1582.80 813.05 L1583.52 814.05 L1584.25 815.05 L1584.97 816.05 L1585.70 817.05 L1586.43 818.05 L1587.16 819.05 L1587.89 820.05 L1588.62 821.05 L1589.35 822.05 L1590.08 823.05 L1590.81 824.05 L1591.55 825.05 L1592.28 826.05 L1593.02 827.05 L1593.76 828.05 L1594.50 829.05 L1595.24 830.05 L1595.98 831.05 L1596.72 832.05 L1597.46 833.05 L1598.21 834.05 L1598.95 835.05 L1599.70 836.05 L1600.44 837.05 L1601.19 838.05 L1601.94 839.05" fill="none" stroke="#BEBEBE" stroke-width="4.4" stroke-dasharray="16.6 16.8" stroke-dashoffset="5.60" clip-path="url(#ce)"/>
<path d="M1476.48 240.00 L1476.94 241.00 L1477.40 242.00 L1477.86 243.00 L1478.31 244.00 L1478.77 245.00 L1479.23 246.00 L1479.69 247.00 L1480.15 248.00 L1480.61 249.00 L1481.07 250.00 L1481.54 251.00 L1482.00 252.00 L1482.46 253.00 L1482.92 254.00 L1483.39 255.00 L1483.85 256.00 L1484.32 257.00 L1484.78 258.00 L1485.25 259.00 L1485.71 260.00 L1486.18 261.00 L1486.64 262.00 L1487.11 263.00 L1487.58 264.00 L1488.05 265.00 L1488.52 266.00 L1488.99 267.00 L1489.46 268.00 L1489.93 269.00 L1490.40 270.00 L1490.87 271.01 L1491.34 272.01 L1491.81 273.01 L1492.29 274.01 L1492.76 275.01 L1493.23 276.01 L1493.71 277.01 L1494.18 278.01 L1494.66 279.01 L1495.13 280.01 L1495.61 281.01 L1496.09 282.01 L1496.56 283.01 L1497.04 284.01 L1497.52 285.01 L1498.00 286.01 L1498.48 287.01 L1498.96 288.01 L1499.44 289.01 L1499.92 290.01 L1500.40 291.01 L1500.88 292.01 L1501.36 293.01 L1501.85 294.01 L1502.33 295.01 L1502.81 296.01 L1503.30 297.01 L1503.78 298.01 L1504.27 299.01 L1504.75 300.01 L1505.24 301.01 L1505.73 302.01 L1506.21 303.01 L1506.70 304.01 L1507.19 305.01 L1507.68 306.01 L1508.17 307.01 L1508.66 308.01 L1509.15 309.01 L1509.64 310.01 L1510.13 311.01 L1510.63 312.01 L1511.12 313.01 L1511.61 314.01 L1512.10 315.01 L1512.60 316.01 L1513.09 317.01 L1513.59 318.01 L1514.08 319.01 L1514.58 320.01 L1515.08 321.01 L1515.58 322.01 L1516.07 323.01 L1516.57 324.01 L1517.07 325.01 L1517.57 326.01 L1518.07 327.01 L1518.57 328.01 L1519.07 329.01 L1519.57 330.01 L1520.08 331.01 L1520.58 332.01 L1521.08 333.01 L1521.59 334.01 L1522.09 335.01 L1522.60 336.01 L1523.10 337.01 L1523.61 338.01 L1524.11 339.01 L1524.62 340.01 L1525.13 341.01 L1525.64 342.01 L1526.15 343.01 L1526.66 344.01 L1527.17 345.01 L1527.68 346.01 L1528.19 347.01 L1528.70 348.01 L1529.21 349.01 L1529.72 350.01 L1530.24 351.01 L1530.75 352.01 L1531.26 353.01 L1531.78 354.01 L1532.29 355.01 L1532.81 356.01 L1533.33 357.01 L1533.84 358.01 L1534.36 359.01 L1534.88 360.01 L1535.40 361.01 L1535.92 362.01 L1536.44 363.01 L1536.96 364.01 L1537.48 365.01 L1538.00 366.01 L1538.52 367.01 L1539.05 368.01 L1539.57 369.01 L1540.10 370.01 L1540.62 371.01 L1541.15 372.01 L1541.67 373.01 L1542.20 374.01 L1542.72 375.01 L1543.25 376.01 L1543.78 377.01 L1544.31 378.01 L1544.84 379.01 L1545.37 380.01 L1545.90 381.01 L1546.43 382.01 L1546.96 383.01 L1547.49 384.01 L1548.03 385.01 L1548.56 386.01 L1549.09 387.01 L1549.63 388.01 L1550.16 389.01 L1550.70 390.01 L1551.23 391.01 L1551.77 392.02 L1552.31 393.02 L1552.85 394.02 L1553.39 395.02 L1553.93 396.02 L1554.47 397.02 L1555.01 398.02 L1555.55 399.02 L1556.09 400.02 L1556.63 401.02 L1557.17 402.02 L1557.72 403.02 L1558.26 404.02 L1558.81 405.02 L1559.35 406.02 L1559.90 407.02 L1560.45 408.02 L1560.99 409.02 L1561.54 410.02 L1562.09 411.02 L1562.64 412.02 L1563.19 413.02 L1563.74 414.02 L1564.29 415.02 L1564.84 416.02 L1565.39 417.02 L1565.95 418.02 L1566.50 419.02 L1567.05 420.02 L1567.61 421.02 L1568.16 422.02 L1568.72 423.02 L1569.28 424.02 L1569.83 425.02 L1570.39 426.02 L1570.95 427.02 L1571.51 428.02 L1572.07 429.02 L1572.63 430.02 L1573.19 431.02 L1573.75 432.02 L1574.31 433.02 L1574.88 434.02 L1575.44 435.02 L1576.00 436.02 L1576.57 437.02 L1577.14 438.02 L1577.70 439.02 L1578.27 440.02 L1578.84 441.02 L1579.40 442.02 L1579.97 443.02 L1580.54 444.02 L1581.11 445.02 L1581.68 446.02 L1582.25 447.02 L1582.83 448.02 L1583.40 449.02 L1583.97 450.02 L1584.55 451.02 L1585.12 452.02 L1585.70 453.02 L1586.27 454.02 L1586.85 455.02 L1587.43 456.02 L1588.01 457.02 L1588.58 458.02 L1589.16 459.02 L1589.74 460.02 L1590.32 461.02 L1590.91 462.02 L1591.49 463.02 L1592.07 464.02 L1592.65 465.02 L1593.24 466.02 L1593.82 467.02 L1594.41 468.02 L1594.99 469.02 L1595.58 470.02 L1596.17 471.02 L1596.76 472.02 L1597.35 473.02 L1597.94 474.02 L1598.53 475.02 L1599.12 476.02 L1599.71 477.02 L1600.30 478.02 L1600.89 479.02 L1601.49 480.02 L1602.08 481.02 L1602.68 482.02 L1603.27 483.02 L1603.87 484.02 L1604.47 485.02 L1605.06 486.02 L1605.66 487.02 L1606.26 488.02 L1606.86 489.02 L1607.46 490.02 L1608.06 491.02 L1608.67 492.02 L1609.27 493.02 L1609.87 494.02 L1610.48 495.02 L1611.08 496.02 L1611.69 497.02 L1612.29 498.02 L1612.90 499.02 L1613.51 500.02 L1614.12 501.02 L1614.73 502.02 L1615.34 503.02 L1615.95 504.02 L1616.56 505.02 L1617.17 506.02 L1617.78 507.02 L1618.40 508.02 L1619.01 509.02 L1619.63 510.02 L1620.24 511.02 L1620.86 512.02 L1621.48 513.03 L1622.10 514.03 L1622.71 515.03 L1623.33 516.03 L1623.95 517.03 L1624.58 518.03 L1625.20 519.03 L1625.82 520.03 L1626.44 521.03 L1627.07 522.03 L1627.69 523.03 L1628.32 524.03 L1628.94 525.03 L1629.57 526.03 L1630.20 527.03 L1630.83 528.03 L1631.46 529.03 L1632.09 530.03 L1632.72 531.03 L1633.35 532.03 L1633.98 533.03 L1634.61 534.03 L1635.25 535.03 L1635.88 536.03 L1636.52 537.03 L1637.16 538.03 L1637.79 539.03 L1638.43 540.03 L1639.07 541.03 L1639.71 542.03 L1640.35 543.03 L1640.99 544.03 L1641.63 545.03 L1642.27 546.03 L1642.92 547.03 L1643.56 548.03 L1644.20 549.03 L1644.85 550.03 L1645.50 551.03 L1646.14 552.03 L1646.79 553.03 L1647.44 554.03 L1648.09 555.03 L1648.74 556.03 L1649.39 557.03 L1650.04 558.03 L1650.70 559.03 L1651.35 560.03 L1652.00 561.03 L1652.66 562.03 L1653.31 563.03 L1653.97 564.03 L1654.63 565.03 L1655.29 566.03 L1655.95 567.03 L1656.61 568.03 L1657.27 569.03 L1657.93 570.03 L1658.59 571.03 L1659.25 572.03 L1659.92 573.03 L1660.58 574.03 L1661.25 575.03 L1661.92 576.03 L1662.58 577.03 L1663.25 578.03 L1663.92 579.03 L1664.59 580.03 L1665.26 581.03 L1665.93 582.03 L1666.61 583.03 L1667.28 584.03 L1667.95 585.03 L1668.63 586.03 L1669.30 587.03 L1669.98 588.03 L1670.66 589.03 L1671.34 590.03 L1672.01 591.03 L1672.69 592.03 L1673.38 593.03 L1674.06 594.03 L1674.74 595.03 L1675.42 596.03 L1676.11 597.03 L1676.79 598.03 L1677.48 599.03 L1678.17 600.03 L1678.85 601.03 L1679.54 602.03 L1680.23 603.03 L1680.92 604.03 L1681.61 605.03 L1682.30 606.03 L1683.00 607.03 L1683.69 608.03 L1684.39 609.03 L1685.08 610.03 L1685.78 611.03 L1686.48 612.03 L1687.17 613.03 L1687.87 614.03 L1688.57 615.03 L1689.27 616.03 L1689.98 617.03 L1690.68 618.03 L1691.38 619.03 L1692.09 620.03 L1692.79 621.03 L1693.50 622.03 L1694.21 623.03 L1694.91 624.03 L1695.62 625.03 L1696.33 626.03 L1697.04 627.03 L1697.76 628.03 L1698.47 629.03 L1699.18 630.03 L1699.90 631.03 L1700.61 632.03 L1701.33 633.03 L1702.04 634.04 L1702.76 635.04 L1703.48 636.04 L1704.20 637.04 L1704.92 638.04 L1705.65 639.04 L1706.37 640.04 L1707.09 641.04 L1707.82 642.04 L1708.54 643.04 L1709.27 644.04 L1710.00 645.04 L1710.72 646.04 L1711.45 647.04 L1712.18 648.04 L1712.92 649.04 L1713.65 650.04 L1714.38 651.04 L1715.12 652.04 L1715.85 653.04 L1716.59 654.04 L1717.32 655.04 L1718.06 656.04 L1718.80 657.04 L1719.54 658.04 L1720.28 659.04 L1721.02 660.04 L1721.77 661.04 L1722.51 662.04 L1723.25 663.04 L1724.00 664.04 L1724.75 665.04 L1725.49 666.04 L1726.24 667.04 L1726.99 668.04 L1727.74 669.04 L1728.50 670.04 L1729.25 671.04 L1730.00 672.04 L1730.76 673.04 L1731.51 674.04 L1732.27 675.04 L1733.03 676.04 L1733.79 677.04 L1734.55 678.04 L1735.31 679.04 L1736.07 680.04 L1736.83 681.04 L1737.59 682.04 L1738.36 683.04 L1739.12 684.04 L1739.89 685.04 L1740.66 686.04 L1741.43 687.04 L1742.20 688.04 L1742.97 689.04 L1743.74 690.04 L1744.51 691.04 L1745.29 692.04 L1746.06 693.04 L1746.84 694.04 L1747.62 695.04 L1748.39 696.04 L1749.17 697.04 L1749.95 698.04 L1750.73 699.04 L1751.52 700.04 L1752.30 701.04 L1753.08 702.04 L1753.87 703.04 L1754.66 704.04 L1755.44 705.04 L1756.23 706.04 L1757.02 707.04 L1757.81 708.04 L1758.60 709.04 L1759.40 710.04 L1760.19 711.04 L1760.99 712.04 L1761.78 713.04 L1762.58 714.04 L1763.38 715.04 L1764.18 716.04 L1764.98 717.04 L1765.78 718.04 L1766.58 719.04 L1767.39 720.04 L1768.19 721.04 L1769.00 722.04 L1769.80 723.04 L1770.61 724.04 L1771.42 725.04 L1772.23 726.04 L1773.04 727.04 L1773.86 728.04 L1774.67 729.04 L1775.48 730.04 L1776.30 731.04 L1777.12 732.04 L1777.94 733.04 L1778.76 734.04 L1779.58 735.04 L1780.40 736.04 L1781.22 737.04 L1782.04 738.04 L1782.87 739.04 L1783.70 740.04 L1784.52 741.04 L1785.35 742.04 L1786.18 743.04 L1787.01 744.04 L1787.84 745.04 L1788.68 746.04 L1789.51 747.04 L1790.35 748.04 L1791.18 749.04 L1792.02 750.04 L1792.86 751.04 L1793.70 752.04 L1794.54 753.04 L1795.38 754.04 L1796.23 755.05 L1797.07 756.05 L1797.92 757.05 L1798.76 758.05 L1799.61 759.05 L1800.46 760.05 L1801.31 761.05 L1802.16 762.05 L1803.02 763.05 L1803.87 764.05 L1804.73 765.05 L1805.58 766.05 L1806.44 767.05 L1807.30 768.05 L1808.16 769.05 L1809.02 770.05 L1809.88 771.05 L1810.75 772.05 L1811.61 773.05 L1812.48 774.05 L1813.35 775.05 L1814.22 776.05 L1815.09 777.05 L1815.96 778.05 L1816.83 779.05 L1817.70 780.05 L1818.58 781.05 L1819.45 782.05 L1820.33 783.05 L1821.21 784.05 L1822.09 785.05 L1822.97 786.05 L1823.85 787.05 L1824.74 788.05 L1825.62 789.05 L1826.51 790.05 L1827.40 791.05 L1828.29 792.05 L1829.18 793.05 L1830.07 794.05 L1830.96 795.05 L1831.85 796.05 L1832.75 797.05 L1833.65 798.05 L1834.54 799.05 L1835.44 800.05 L1836.34 801.05 L1837.24 802.05 L1838.15 803.05 L1839.05 804.05 L1839.96 805.05 L1840.86 806.05 L1841.77 807.05 L1842.68 808.05 L1843.59 809.05 L1844.51 810.05 L1845.42 811.05 L1846.33 812.05 L1847.25 813.05 L1848.17 814.05 L1849.09 815.05 L1850.01 816.05 L1850.93 817.05 L1851.85 818.05 L1852.78 819.05 L1853.70 820.05 L1854.63 821.05 L1855.56 822.05 L1856.49 823.05 L1857.42 824.05 L1858.35 825.05 L1859.28 826.05 L1860.22 827.05 L1861.16 828.05 L1862.09 829.05 L1863.03 830.05 L1863.97 831.05 L1864.92 832.05 L1865.86 833.05 L1866.80 834.05 L1867.75 835.05 L1868.70 836.05 L1869.65 837.05 L1870.60 838.05 L1871.55 839.05" fill="none" stroke="#BEBEBE" stroke-width="4.4" stroke-dasharray="16.6 16.8" stroke-dashoffset="22.40" clip-path="url(#ce)"/>
<path d="M1685.74 240.00 L1686.30 241.00 L1686.86 242.00 L1687.42 243.00 L1687.98 244.00 L1688.54 245.00 L1689.10 246.00 L1689.66 247.00 L1690.22 248.00 L1690.78 249.00 L1691.35 250.00 L1691.91 251.00 L1692.48 252.00 L1693.04 253.00 L1693.61 254.00 L1694.17 255.00 L1694.74 256.00 L1695.31 257.00 L1695.88 258.00 L1696.45 259.00 L1697.01 260.00 L1697.58 261.00 L1698.16 262.00 L1698.73 263.00 L1699.30 264.00 L1699.87 265.00 L1700.45 266.00 L1701.02 267.00 L1701.59 268.00 L1702.17 269.00 L1702.74 270.00 L1703.32 271.01 L1703.90 272.01 L1704.48 273.01 L1705.05 274.01 L1705.63 275.01 L1706.21 276.01 L1706.79 277.01 L1707.37 278.01 L1707.96 279.01 L1708.54 280.01 L1709.12 281.01 L1709.70 282.01 L1710.29 283.01 L1710.87 284.01 L1711.46 285.01 L1712.04 286.01 L1712.63 287.01 L1713.22 288.01 L1713.81 289.01 L1714.39 290.01 L1714.98 291.01 L1715.57 292.01 L1716.16 293.01 L1716.76 294.01 L1717.35 295.01 L1717.94 296.01 L1718.53 297.01 L1719.13 298.01 L1719.72 299.01 L1720.32 300.01 L1720.91 301.01 L1721.51 302.01 L1722.11 303.01 L1722.70 304.01 L1723.30 305.01 L1723.90 306.01 L1724.50 307.01 L1725.10 308.01 L1725.70 309.01 L1726.30 310.01 L1726.91 311.01 L1727.51 312.01 L1728.11 313.01 L1728.72 314.01 L1729.32 315.01 L1729.93 316.01 L1730.54 317.01 L1731.14 318.01 L1731.75 319.01 L1732.36 320.01 L1732.97 321.01 L1733.58 322.01 L1734.19 323.01 L1734.80 324.01 L1735.41 325.01 L1736.03 326.01 L1736.64 327.01 L1737.25 328.01 L1737.87 329.01 L1738.48 330.01 L1739.10 331.01 L1739.72 332.01 L1740.34 333.01 L1740.95 334.01 L1741.57 335.01 L1742.19 336.01 L1742.81 337.01 L1743.43 338.01 L1744.06 339.01 L1744.68 340.01 L1745.30 341.01 L1745.93 342.01 L1746.55 343.01 L1747.18 344.01 L1747.80 345.01 L1748.43 346.01 L1749.06 347.01 L1749.68 348.01 L1750.31 349.01 L1750.94 350.01 L1751.57 351.01 L1752.20 352.01 L1752.84 353.01 L1753.47 354.01 L1754.10 355.01 L1754.74 356.01 L1755.37 357.01 L1756.01 358.01 L1756.64 359.01 L1757.28 360.01 L1757.92 361.01 L1758.55 362.01 L1759.19 363.01 L1759.83 364.01 L1760.47 365.01 L1761.12 366.01 L1761.76 367.01 L1762.40 368.01 L1763.04 369.01 L1763.69 370.01 L1764.33 371.01 L1764.98 372.01 L1765.63 373.01 L1766.27 374.01 L1766.92 375.01 L1767.57 376.01 L1768.22 377.01 L1768.87 378.01 L1769.52 379.01 L1770.17 380.01 L1770.82 381.01 L1771.48 382.01 L1772.13 383.01 L1772.79 384.01 L1773.44 385.01 L1774.10 386.01 L1774.76 387.01 L1775.41 388.01 L1776.07 389.01 L1776.73 390.01 L1777.39 391.01 L1778.05 392.02 L1778.72 393.02 L1779.38 394.02 L1780.04 395.02 L1780.71 396.02 L1781.37 397.02 L1782.04 398.02 L1782.70 399.02 L1783.37 400.02 L1784.04 401.02 L1784.71 402.02 L1785.38 403.02 L1786.05 404.02 L1786.72 405.02 L1787.39 406.02 L1788.06 407.02 L1788.74 408.02 L1789.41 409.02 L1790.09 410.02 L1790.76 411.02 L1791.44 412.02 L1792.12 413.02 L1792.79 414.02 L1793.47 415.02 L1794.15 416.02 L1794.83 417.02 L1795.52 418.02 L1796.20 419.02 L1796.88 420.02 L1797.56 421.02 L1798.25 422.02 L1798.94 423.02 L1799.62 424.02 L1800.31 425.02 L1801.00 426.02 L1801.69 427.02 L1802.38 428.02 L1803.07 429.02 L1803.76 430.02 L1804.45 431.02 L1805.14 432.02 L1805.84 433.02 L1806.53 434.02 L1807.23 435.02 L1807.92 436.02 L1808.62 437.02 L1809.32 438.02 L1810.02 439.02 L1810.72 440.02 L1811.42 441.02 L1812.12 442.02 L1812.82 443.02 L1813.53 444.02 L1814.23 445.02 L1814.93 446.02 L1815.64 447.02 L1816.35 448.02 L1817.05 449.02 L1817.76 450.02 L1818.47 451.02 L1819.18 452.02 L1819.89 453.02 L1820.60 454.02 L1821.32 455.02 L1822.03 456.02 L1822.74 457.02 L1823.46 458.02 L1824.18 459.02 L1824.89 460.02 L1825.61 461.02 L1826.33 462.02 L1827.05 463.02 L1827.77 464.02 L1828.49 465.02 L1829.21 466.02 L1829.94 467.02 L1830.66 468.02 L1831.38 469.02 L1832.11 470.02 L1832.84 471.02 L1833.56 472.02 L1834.29 473.02 L1835.02 474.02 L1835.75 475.02 L1836.48 476.02 L1837.22 477.02 L1837.95 478.02 L1838.68 479.02 L1839.42 480.02 L1840.15 481.02 L1840.89 482.02 L1841.63 483.02 L1842.37 484.02 L1843.10 485.02 L1843.84 486.02 L1844.59 487.02 L1845.33 488.02 L1846.07 489.02 L1846.81 490.02 L1847.56 491.02 L1848.31 492.02 L1849.05 493.02 L1849.80 494.02 L1850.55 495.02 L1851.30 496.02 L1852.05 497.02 L1852.80 498.02 L1853.55 499.02 L1854.30 500.02 L1855.06 501.02 L1855.81 502.02 L1856.57 503.02 L1857.33 504.02 L1858.08 505.02 L1858.84 506.02 L1859.60 507.02 L1860.36 508.02 L1861.13 509.02 L1861.89 510.02 L1862.65 511.02 L1863.42 512.02 L1864.18 513.03 L1864.95 514.03 L1865.72 515.03 L1866.49 516.03 L1867.26 517.03 L1868.03 518.03 L1868.80 519.03 L1869.57 520.03 L1870.34 521.03 L1871.12 522.03 L1871.89 523.03 L1872.67 524.03 L1873.45 525.03 L1874.22 526.03 L1875.00 527.03 L1875.78 528.03 L1876.57 529.03 L1877.35 530.03 L1878.13 531.03 L1878.91 532.03 L1879.70 533.03 L1880.49 534.03 L1881.27 535.03 L1882.06 536.03 L1882.85 537.03 L1883.64 538.03 L1884.43 539.03 L1885.23 540.03 L1886.02 541.03 L1886.81 542.03 L1887.61 543.03 L1888.40 544.03 L1889.20 545.03 L1890.00 546.03 L1890.80 547.03 L1891.60 548.03 L1892.40 549.03 L1893.20 550.03 L1894.01 551.03 L1894.81 552.03 L1895.62 553.03 L1896.43 554.03 L1897.23 555.03 L1898.04 556.03 L1898.85 557.03 L1899.66 558.03 L1900.48 559.03 L1901.29 560.03 L1902.10 561.03 L1902.92 562.03 L1903.73 563.03 L1904.55 564.03 L1905.37 565.03 L1906.19 566.03 L1907.01 567.03 L1907.83 568.03 L1908.65 569.03 L1909.48 570.03 L1910.30 571.03 L1911.13 572.03 L1911.95 573.03 L1912.78 574.03 L1913.61 575.03 L1914.44 576.03 L1915.27 577.03 L1916.11 578.03 L1916.94 579.03 L1917.77 580.03 L1918.61 581.03 L1919.45 582.03 L1920.28 583.03 L1921.12 584.03 L1921.96 585.03 L1922.80 586.03 L1923.65 587.03 L1924.49 588.03 L1925.33 589.03 L1926.18 590.03 L1927.03 591.03 L1927.87 592.03 L1928.72 593.03 L1929.57 594.03 L1930.43 595.03 L1931.28 596.03 L1932.13 597.03 L1932.99 598.03 L1933.70 598.87" fill="none" stroke="#BEBEBE" stroke-width="4.4" stroke-dasharray="16.6 16.8" stroke-dashoffset="15.04" clip-path="url(#ce)"/>
<text x="1540.78" y="789.20" font-size="23.0" fill="#000" stroke="#000" stroke-width="0.35" textLength="46.02" lengthAdjust="spacingAndGlyphs">0.85</text>
<text x="1787.15" y="764.90" font-size="23.0" fill="#000" stroke="#000" stroke-width="0.35" textLength="33.69" lengthAdjust="spacingAndGlyphs">0.9</text>
<text x="1920.68" y="615.80" font-size="23.0" fill="#000" stroke="#000" stroke-width="0.35" textLength="45.91" lengthAdjust="spacingAndGlyphs">0.95</text>
<text x="-2.05" y="530.20" font-size="43" font-weight="bold" fill="#000" textLength="26.06" lengthAdjust="spacingAndGlyphs">d</text>
<text x="48.66" y="547.70" font-size="20.8" fill="#231F20" stroke="#231F20" stroke-width="0.35" textLength="261.28" lengthAdjust="spacingAndGlyphs">transcript/10524_759133C</text>
<rect x="107.80" y="558.60" width="31.00" height="34.60" fill="#FFFFFF" stroke="#231F20" stroke-width="1.7"/>
<rect x="138.80" y="558.60" width="145.00" height="34.60" fill="#D7DF23" stroke="#231F20" stroke-width="1.7"/>
<rect x="283.80" y="558.60" width="97.20" height="34.60" fill="#1C75BC" stroke="#231F20" stroke-width="1.7"/>
<rect x="381.00" y="558.60" width="66.30" height="34.60" fill="#8DC63F" stroke="#231F20" stroke-width="1.7"/>
<rect x="447.30" y="558.60" width="77.20" height="34.60" fill="#FFFFFF" stroke="#231F20" stroke-width="1.7"/>
<rect x="107.80" y="558.60" width="416.70" height="34.60" fill="none" stroke="#231F20" stroke-width="2.1"/>
<rect x="107.80" y="633.30" width="31.00" height="35.20" fill="#FFFFFF" stroke="#231F20" stroke-width="1.7"/>
<rect x="138.80" y="633.30" width="145.00" height="35.20" fill="#D7DF23" stroke="#231F20" stroke-width="1.7"/>
<rect x="283.80" y="633.30" width="97.20" height="35.20" fill="#1C75BC" stroke="#231F20" stroke-width="1.7"/>
<rect x="381.00" y="633.30" width="99.40" height="35.20" fill="#8DC63F" stroke="#231F20" stroke-width="1.7"/>
<rect x="107.80" y="633.30" width="372.60" height="35.20" fill="none" stroke="#231F20" stroke-width="2.1"/>
<rect x="107.80" y="687.90" width="31.00" height="34.90" fill="#FFFFFF" stroke="#231F20" stroke-width="1.7"/>
<rect x="138.80" y="687.90" width="145.00" height="34.90" fill="#D7DF23" stroke="#231F20" stroke-width="1.7"/>
<rect x="283.80" y="687.90" width="97.20" height="34.90" fill="#1C75BC" stroke="#231F20" stroke-width="1.7"/>
<rect x="381.00" y="687.90" width="99.20" height="34.90" fill="#8DC63F" stroke="#231F20" stroke-width="1.7"/>
<rect x="480.20" y="687.90" width="36.90" height="34.90" fill="#D1D3D4" stroke="#231F20" stroke-width="1.7"/>
<rect x="517.10" y="687.90" width="54.90" height="34.90" fill="#F15A29" stroke="#231F20" stroke-width="1.7"/>
<rect x="572.00" y="687.90" width="41.70" height="34.90" fill="#FFFFFF" stroke="#231F20" stroke-width="1.7"/>
<rect x="613.70" y="687.90" width="172.20" height="34.90" fill="#F9ED32" stroke="#231F20" stroke-width="1.7"/>
<rect x="785.90" y="687.90" width="220.90" height="34.90" fill="#FBB040" stroke="#231F20" stroke-width="1.7"/>
<rect x="1006.80" y="687.90" width="43.60" height="34.90" fill="#2AB573" stroke="#231F20" stroke-width="1.7"/>
<rect x="107.80" y="687.90" width="942.60" height="34.90" fill="none" stroke="#231F20" stroke-width="2.1"/>
<rect x="107.80" y="740.70" width="31.00" height="34.90" fill="#FFFFFF" stroke="#231F20" stroke-width="1.7"/>
<rect x="138.80" y="740.70" width="145.00" height="34.90" fill="#D7DF23" stroke="#231F20" stroke-width="1.7"/>
<rect x="283.80" y="740.70" width="97.20" height="34.90" fill="#1C75BC" stroke="#231F20" stroke-width="1.7"/>
<rect x="381.00" y="740.70" width="99.20" height="34.90" fill="#8DC63F" stroke="#231F20" stroke-width="1.7"/>
<rect x="480.20" y="740.70" width="36.90" height="34.90" fill="#D1D3D4" stroke="#231F20" stroke-width="1.7"/>
<rect x="517.10" y="740.70" width="54.90" height="34.90" fill="#F15A29" stroke="#231F20" stroke-width="1.7"/>
<rect x="572.00" y="740.70" width="41.70" height="34.90" fill="#FFFFFF" stroke="#231F20" stroke-width="1.7"/>
<rect x="613.70" y="740.70" width="10.50" height="34.90" fill="#F9ED32" stroke="#231F20" stroke-width="1.7"/>
<rect x="624.20" y="740.70" width="8.10" height="34.90" fill="#FBB040" stroke="#231F20" stroke-width="1.7"/>
<rect x="107.80" y="740.70" width="524.50" height="34.90" fill="none" stroke="#231F20" stroke-width="2.1"/>
<rect x="107.80" y="792.90" width="31.00" height="35.00" fill="#FFFFFF" stroke="#231F20" stroke-width="1.7"/>
<rect x="138.80" y="792.90" width="145.00" height="35.00" fill="#D7DF23" stroke="#231F20" stroke-width="1.7"/>
<rect x="283.80" y="792.90" width="97.20" height="35.00" fill="#1C75BC" stroke="#231F20" stroke-width="1.7"/>
<rect x="381.00" y="792.90" width="99.20" height="35.00" fill="#8DC63F" stroke="#231F20" stroke-width="1.7"/>
<rect x="480.20" y="792.90" width="36.90" height="35.00" fill="#D1D3D4" stroke="#231F20" stroke-width="1.7"/>
<rect x="517.10" y="792.90" width="54.90" height="35.00" fill="#F15A29" stroke="#231F20" stroke-width="1.7"/>
<rect x="572.00" y="792.90" width="41.70" height="35.00" fill="#FFFFFF" stroke="#231F20" stroke-width="1.7"/>
<rect x="613.70" y="792.90" width="172.20" height="35.00" fill="#F9ED32" stroke="#231F20" stroke-width="1.7"/>
<rect x="785.90" y="792.90" width="217.10" height="35.00" fill="#FBB040" stroke="#231F20" stroke-width="1.7"/>
<rect x="1003.00" y="792.90" width="43.60" height="35.00" fill="#2AB573" stroke="#231F20" stroke-width="1.7"/>
<rect x="107.80" y="792.90" width="938.80" height="35.00" fill="none" stroke="#231F20" stroke-width="2.1"/>
<text x="193.77" y="579.90" font-size="10.319767441860499" fill="#111" stroke="#111" stroke-width="0.3" textLength="23.74" lengthAdjust="spacingAndGlyphs">4H</text>
<text x="315.45" y="580.10" font-size="11.191860465116346" fill="#111" stroke="#111" stroke-width="0.3" textLength="19.46" lengthAdjust="spacingAndGlyphs">EF</text>
<text x="401.37" y="580.30" font-size="11.773255813953357" fill="#111" stroke="#111" stroke-width="0.3" textLength="33.34" lengthAdjust="spacingAndGlyphs">SH2</text>
<text x="464.99" y="580.10" font-size="12.6" fill="#231F20" stroke="#231F20" stroke-width="0.35" textLength="39.71" lengthAdjust="spacingAndGlyphs">66aa</text>
<text x="529.18" y="579.50" font-size="10.6" fill="#231F20" stroke="#231F20" stroke-width="0.35" textLength="38.22" lengthAdjust="spacingAndGlyphs">395aa</text>
<text x="197.67" y="653.50" font-size="10.901162790697676" fill="#111" stroke="#111" stroke-width="0.3" textLength="23.74" lengthAdjust="spacingAndGlyphs">4H</text>
<text x="318.95" y="653.70" font-size="11.191860465116346" fill="#111" stroke="#111" stroke-width="0.3" textLength="19.46" lengthAdjust="spacingAndGlyphs">EF</text>
<text x="413.07" y="653.90" font-size="11.773255813953522" fill="#111" stroke="#111" stroke-width="0.3" textLength="33.34" lengthAdjust="spacingAndGlyphs">SH2</text>
<text x="485.57" y="657.00" font-size="13.5" fill="#231F20" stroke="#231F20" stroke-width="0.35" textLength="38.43" lengthAdjust="spacingAndGlyphs">357aa</text>
<text x="197.87" y="709.90" font-size="11.19186046511618" fill="#111" stroke="#111" stroke-width="0.3" textLength="23.74" lengthAdjust="spacingAndGlyphs">4H</text>
<text x="318.92" y="709.90" font-size="11.19186046511618" fill="#111" stroke="#111" stroke-width="0.3" textLength="19.90" lengthAdjust="spacingAndGlyphs">EF</text>
<text x="412.92" y="710.10" font-size="11.773255813953522" fill="#111" stroke="#111" stroke-width="0.3" textLength="33.24" lengthAdjust="spacingAndGlyphs">SH2</text>
<text x="491.21" y="709.80" font-size="11.773255813953357" fill="#111" stroke="#111" stroke-width="0.3" textLength="10.09" lengthAdjust="spacingAndGlyphs">L</text>
<text x="535.09" y="709.80" font-size="11.773255813953357" fill="#111" stroke="#111" stroke-width="0.3" textLength="19.59" lengthAdjust="spacingAndGlyphs">RF</text>
<text x="197.87" y="762.70" font-size="11.19186046511618" fill="#111" stroke="#111" stroke-width="0.3" textLength="23.74" lengthAdjust="spacingAndGlyphs">4H</text>
<text x="318.92" y="762.70" font-size="11.19186046511618" fill="#111" stroke="#111" stroke-width="0.3" textLength="19.90" lengthAdjust="spacingAndGlyphs">EF</text>
<text x="412.92" y="762.90" font-size="11.773255813953522" fill="#111" stroke="#111" stroke-width="0.3" textLength="33.24" lengthAdjust="spacingAndGlyphs">SH2</text>
<text x="491.21" y="762.60" font-size="11.773255813953357" fill="#111" stroke="#111" stroke-width="0.3" textLength="10.09" lengthAdjust="spacingAndGlyphs">L</text>
<text x="535.09" y="762.60" font-size="11.773255813953357" fill="#111" stroke="#111" stroke-width="0.3" textLength="19.59" lengthAdjust="spacingAndGlyphs">RF</text>
<text x="197.87" y="814.90" font-size="11.19186046511618" fill="#111" stroke="#111" stroke-width="0.3" textLength="23.74" lengthAdjust="spacingAndGlyphs">4H</text>
<text x="318.92" y="814.90" font-size="11.19186046511618" fill="#111" stroke="#111" stroke-width="0.3" textLength="19.90" lengthAdjust="spacingAndGlyphs">EF</text>
<text x="412.92" y="815.10" font-size="11.773255813953522" fill="#111" stroke="#111" stroke-width="0.3" textLength="33.24" lengthAdjust="spacingAndGlyphs">SH2</text>
<text x="491.21" y="814.80" font-size="11.773255813953357" fill="#111" stroke="#111" stroke-width="0.3" textLength="10.09" lengthAdjust="spacingAndGlyphs">L</text>
<text x="535.09" y="814.80" font-size="11.773255813953357" fill="#111" stroke="#111" stroke-width="0.3" textLength="19.59" lengthAdjust="spacingAndGlyphs">RF</text>
<text x="654.25" y="709.40" font-size="14.8" fill="#231F20" stroke="#231F20" stroke-width="0.35" textLength="82.34" lengthAdjust="spacingAndGlyphs">Proline Rich</text>
<text x="818.89" y="710.30" font-size="13.3" fill="#231F20" stroke="#231F20" stroke-width="0.35" textLength="164.46" lengthAdjust="spacingAndGlyphs">Phosphotyrosine Domain</text>
<text x="1014.45" y="709.80" font-size="15.9" fill="#231F20" stroke="#231F20" stroke-width="0.35" textLength="27.98" lengthAdjust="spacingAndGlyphs">UBA</text>
<text x="654.25" y="814.40" font-size="14.8" fill="#231F20" stroke="#231F20" stroke-width="0.35" textLength="82.34" lengthAdjust="spacingAndGlyphs">Proline Rich</text>
<text x="816.98" y="815.30" font-size="13.3" fill="#231F20" stroke="#231F20" stroke-width="0.35" textLength="166.39" lengthAdjust="spacingAndGlyphs">Phosphotyrosine Domain</text>
<text x="1009.63" y="814.80" font-size="15.9" fill="#231F20" stroke="#231F20" stroke-width="0.35" textLength="28.39" lengthAdjust="spacingAndGlyphs">UBA</text>
<text x="1056.97" y="707.50" font-size="14.8" fill="#231F20" stroke="#231F20" stroke-width="0.35" textLength="43.03" lengthAdjust="spacingAndGlyphs">982aa</text>
<text x="1051.31" y="816.00" font-size="14.8" fill="#231F20" stroke="#231F20" stroke-width="0.35" textLength="40.99" lengthAdjust="spacingAndGlyphs">906aa</text>
<text x="639.25" y="762.80" font-size="12.3" fill="#231F20" stroke="#231F20" stroke-width="0.35" textLength="42.65" lengthAdjust="spacingAndGlyphs">474aa</text>
<text x="25.65" y="583.40" font-size="17.7" fill="#231F20" stroke="#231F20" stroke-width="0.35" textLength="70.67" lengthAdjust="spacingAndGlyphs">CBLB-IDI1</text>
<text x="57.55" y="657.60" font-size="16.9" fill="#231F20" stroke="#231F20" stroke-width="0.35" textLength="40.13" lengthAdjust="spacingAndGlyphs">v-CBL</text>
<text x="56.06" y="713.90" font-size="16.0" fill="#231F20" stroke="#231F20" stroke-width="0.35" textLength="41.35" lengthAdjust="spacingAndGlyphs">CBL-b</text>
<text x="56.75" y="763.50" font-size="16.0" fill="#231F20" stroke="#231F20" stroke-width="0.35" textLength="40.94" lengthAdjust="spacingAndGlyphs">CBL-c</text>
<text x="68.06" y="813.30" font-size="16.0" fill="#231F20" stroke="#231F20" stroke-width="0.35" textLength="28.53" lengthAdjust="spacingAndGlyphs">CBL</text>
<path d="M437.5 541.7 L456.7 541.7 L447.1 558.4 Z" fill="#231F20"/>
<text x="404.87" y="538.40" font-size="15.3" fill="#231F20" stroke="#231F20" stroke-width="0.35" textLength="81.96" lengthAdjust="spacingAndGlyphs">breakpoint</text>
<text x="491.81" y="540.60" font-size="23.8" fill="#231F20" stroke="#231F20" stroke-width="0.35" textLength="250.25" lengthAdjust="spacingAndGlyphs">IDI2-AS1 protein fragment</text>
<line x1="447.3" y1="594" x2="447.3" y2="612.8" stroke="#231F20" stroke-width="1.6" stroke-dasharray="2.2 2.2"/>
<line x1="447.3" y1="612.8" x2="447.3" y2="633.3" stroke="#231F20" stroke-width="1.6"/>
<text x="449.45" y="612.20" font-size="13.4" fill="#231F20" stroke="#231F20" stroke-width="0.35" textLength="23.93" lengthAdjust="spacingAndGlyphs">329</text>
<path d="M138.4 834.3 C139 846 152 850.1 175 850.1 L278 850.1 C298 850.1 307 856 309.3 866.5 C311.6 856 320.6 850.1 340.6 850.1 L443.7 850.1 C466.7 850.1 479.7 846 480.3 834.3" fill="none" stroke="#231F20" stroke-width="2"/>
<text x="258.63" y="884.90" font-size="18.9" fill="#231F20" stroke="#231F20" stroke-width="0.35" textLength="114.21" lengthAdjust="spacingAndGlyphs">TKB domain</text>
</svg>
</body></html>
